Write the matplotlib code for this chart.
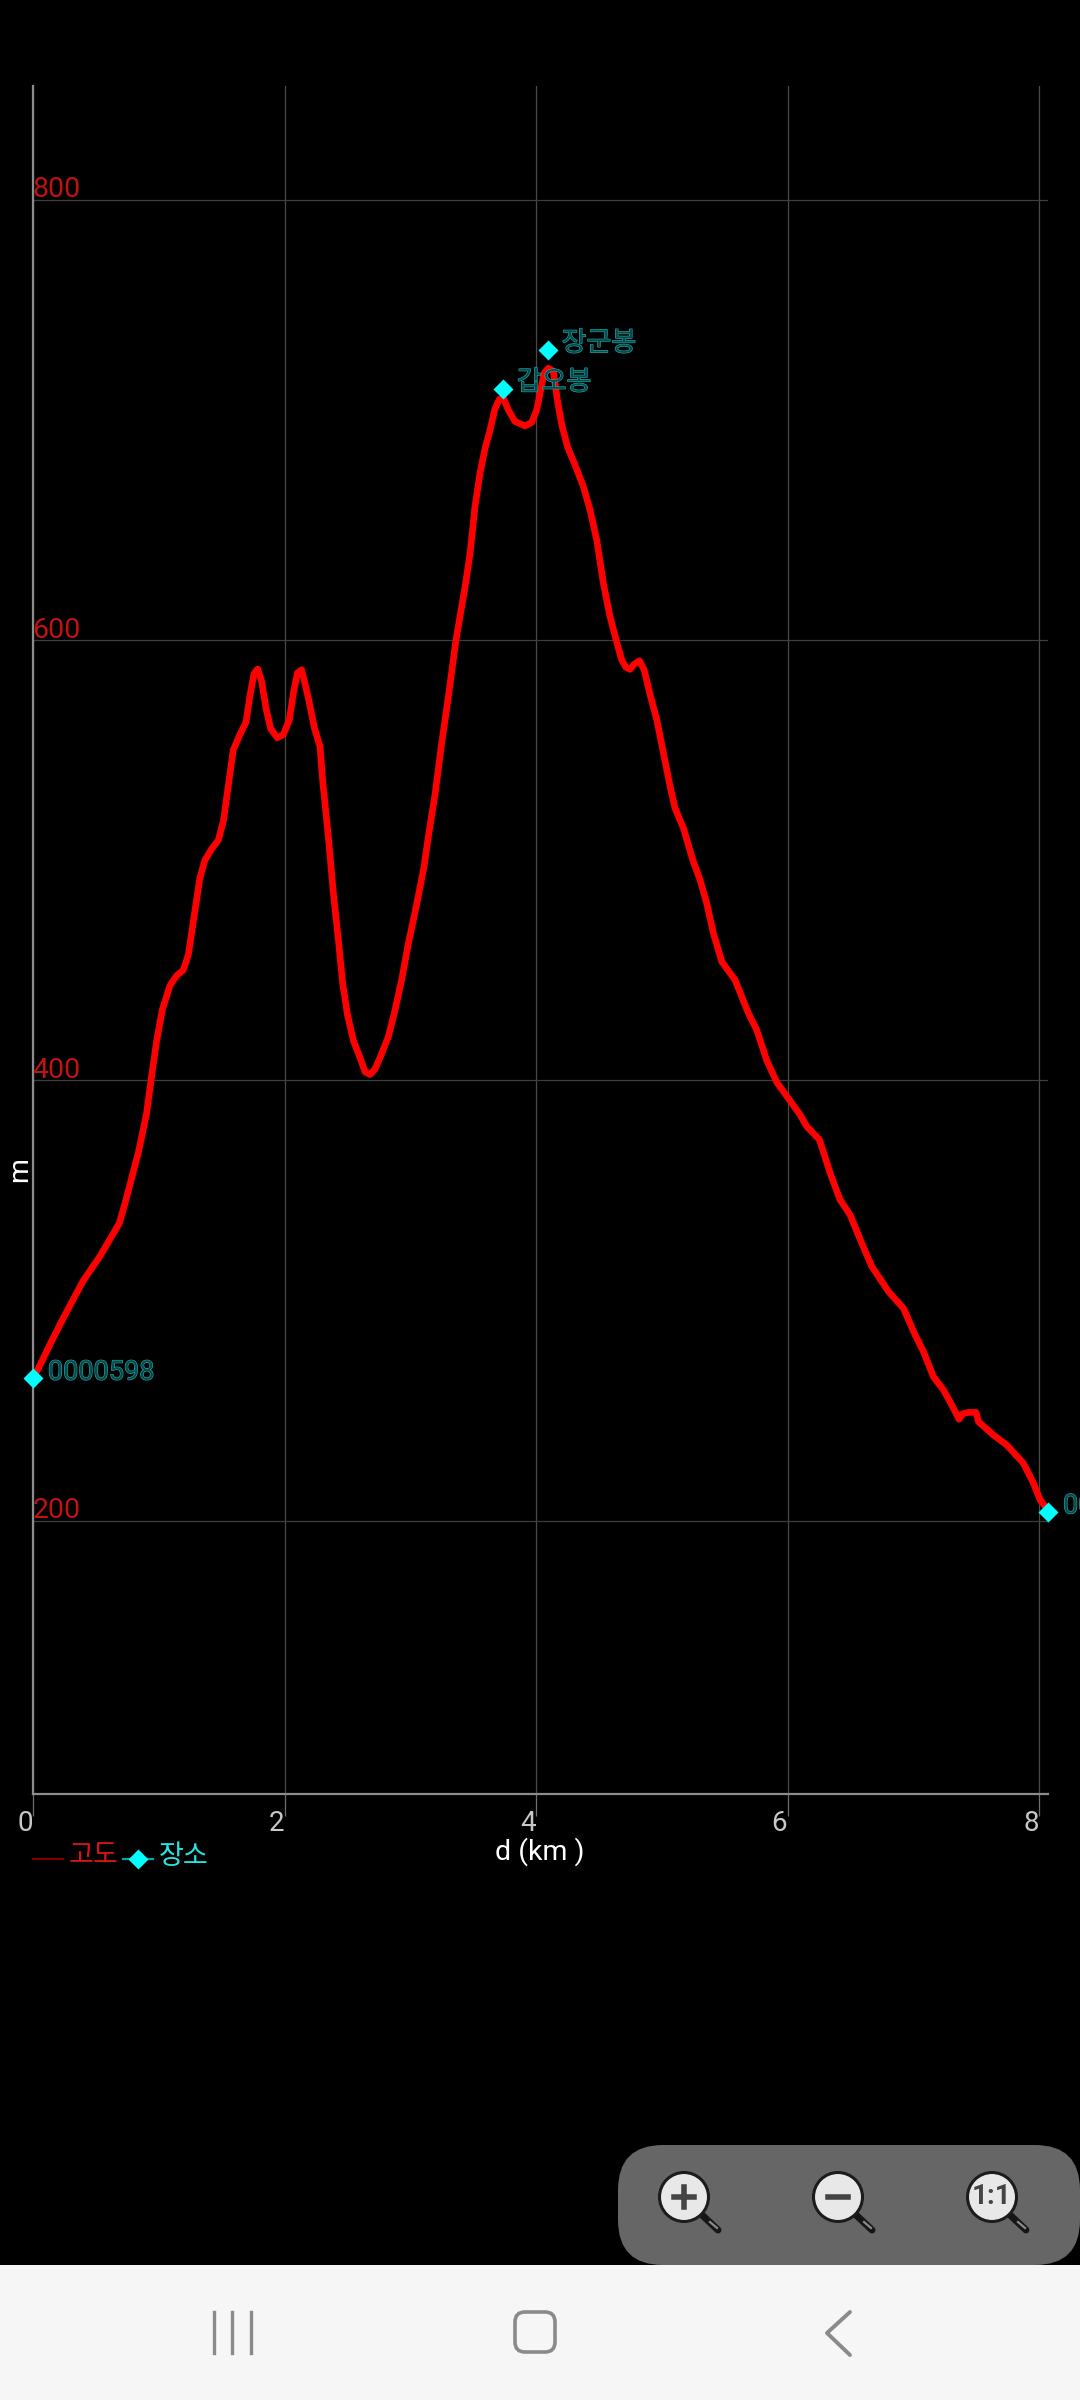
import matplotlib
matplotlib.use('Agg')
import matplotlib.pyplot as plt
import matplotlib.patheffects as pe
from matplotlib.patches import Circle, FancyBboxPatch, Rectangle

plt.rcParams['font.family'] = ['Roboto', 'Noto Sans CJK KR', 'DejaVu Sans']

# elevation profile
dist_km = [0, 0.04, 0.133, 0.239, 0.398, 0.53, 0.684, 0.729, 0.835, 0.901, 0.941, 0.981,
           1.026, 1.087, 1.14, 1.193, 1.233, 1.272, 1.325, 1.365, 1.418, 1.471, 1.511, 1.551,
           1.59, 1.643, 1.691, 1.723, 1.755, 1.784, 1.816, 1.85, 1.887, 1.94, 1.988, 2.036,
           2.068, 2.1, 2.134, 2.187, 2.235, 2.28, 2.301, 2.346, 2.386, 2.426, 2.46, 2.497,
           2.545, 2.593, 2.638, 2.678, 2.717, 2.77, 2.823, 2.876, 2.929, 2.982, 3.049, 3.107,
           3.141, 3.195, 3.247, 3.3, 3.361, 3.433, 3.473, 3.512, 3.552, 3.592, 3.632, 3.671,
           3.706, 3.738, 3.777, 3.83, 3.91, 3.963, 4.003, 4.035, 4.061, 4.095, 4.135, 4.167,
           4.202, 4.247, 4.307, 4.374, 4.427, 4.48, 4.533, 4.586, 4.639, 4.679, 4.713, 4.745,
           4.779, 4.82, 4.857, 4.905, 4.958, 5.011, 5.064, 5.103, 5.17, 5.244, 5.302, 5.355,
           5.408, 5.475, 5.58, 5.687, 5.753, 5.832, 5.912, 5.938, 6.097, 6.15, 6.251, 6.336,
           6.415, 6.495, 6.587, 6.667, 6.8, 6.919, 7.012, 7.078, 7.157, 7.237, 7.303, 7.361,
           7.388, 7.436, 7.497, 7.515, 7.635, 7.74, 7.873, 7.953, 8.006, 8.059]
elev_m = [265, 269, 280, 292, 309, 320, 335, 344, 367, 385, 402, 418,
          432, 443, 447.5, 450, 457, 472, 492, 500, 505, 509, 517.5, 534,
          550, 557, 562.6, 574.7, 584.6, 586.8, 581, 569, 559.7, 555.5, 557, 563.7,
          575.8, 585, 586.4, 573.6, 560, 551.5, 536, 510.6, 485, 463.6, 444, 430,
          418, 411, 403.8, 402.6, 405, 412, 419.7, 431.8, 445.5, 462, 480, 497,
          510.6, 530, 553, 574, 600, 624, 639.3, 660.5, 675.7, 687, 695.4, 705,
          709.3, 709.8, 704.5, 699.2, 697.2, 698.7, 704.5, 713.6, 721, 723.4, 722, 709,
          697.7, 687.8, 679.5, 669.6, 659, 645.4, 625.7, 610.5, 599, 590.8, 587.5, 586.6,
          589, 590.5, 586.4, 575, 563.6, 548.5, 533.3, 523.5, 514.4, 500, 490.9, 480.3,
          466.7, 453.8, 445.5, 430.3, 422.7, 409, 399, 397, 384.3, 379, 373, 357.8,
          345.7, 338.8, 326, 315.4, 304, 296.4, 284.3, 276.7, 265.4, 259.3, 252.5, 246,
          248.4, 249.1, 249.1, 244.9, 238.8, 234.3, 226, 216.9, 209.3, 205.5]

place_km = [0, 3.733, 4.09, 8.066]
place_m = [264.7, 714, 731.7, 204]
place_names = ['0000598', '갑오봉', '장군봉', '00']

x_ticks = [0, 2, 4, 6, 8]
y_ticks = [200, 400, 600, 800]

W, H = 1080, 2400
fig = plt.figure(figsize=(W / 100, H / 100), dpi=100, facecolor='black')

# axes box in pixels: left 33, right 1048, top 85.5, bottom 1793.5
ax = fig.add_axes([33.3 / W, 1 - 1793.5 / H, (1047.7 - 33.3) / W, (1793.5 - 85.5) / H], facecolor='black')
ax.set_xlim(0, 8.066)
ax.set_ylim(76, 851.8)

for s in ['top', 'right']:
    ax.spines[s].set_visible(False)
for s in ['left', 'bottom']:
    ax.spines[s].set_color('#8c8c8c')
    ax.spines[s].set_linewidth(1.6)

ax.set_xticks(x_ticks)
ax.set_yticks(y_ticks)
ax.tick_params(axis='x', length=16, width=0.9, color='#6e6e6e', labelbottom=False)
ax.tick_params(axis='y', length=0, labelleft=False)
ax.grid(axis='x', color='#4a4a4a', lw=0.9)
ax.grid(axis='y', color='#3e3e3e', lw=0.9)
ax.set_axisbelow(True)

for t in x_ticks:
    ax.annotate(str(t), xy=(t, 0), xycoords=('data', 'axes fraction'), xytext=(-6, -21.5),
                textcoords='offset points', ha='center', va='center', fontsize=20, color='#c8c8c8')
for t in y_ticks:
    ax.annotate(str(t), xy=(0, t), xycoords=('axes fraction', 'data'), xytext=(-0.7, 1.5),
                textcoords='offset points', ha='left', va='baseline', fontsize=20.5, color='#c01212')

ax.plot(dist_km, elev_m, color='#ff0000', lw=4.8, solid_joinstyle='round', solid_capstyle='round', zorder=3)
ax.plot(place_km, place_m, ls='none', marker='D', ms=10.6, mfc='#00ffff', mec='none', zorder=4, clip_on=False)

# labels are hollow in the reference: thin teal rim round a dark fill
outline = [pe.Stroke(linewidth=0.8, foreground='#1fb0b0'), pe.Normal()]
label_off = {'0000598': (10.5, 4.2), '갑오봉': (10, -5), '장군봉': (10, -5), '00': (11, 4.2)}
for k, v, name in zip(place_km, place_m, place_names):
    ax.annotate(name, xy=(k, v), xytext=label_off[name], textcoords='offset points', ha='left',
                va='bottom' if name in ['갑오봉', '장군봉'] else 'center', fontsize=19.5,
                color='#0a4c4d', path_effects=outline, zorder=5, annotation_clip=False)

# overlay in pixel coordinates: legend, axis titles and the phone screen chrome
ov = fig.add_axes([0, 0, 1, 1], facecolor='none')
ov.set_xlim(0, W)
ov.set_ylim(H, 0)
ov.axis('off')

ov.text(20, 1170, 'm', color='white', fontsize=20.5, rotation=90, ha='center', va='center')
ov.text(540, 1852, 'd (km )', color='white', fontsize=20.5, ha='center', va='center')

ov.plot([33, 63], [1859, 1859], color='#7d0000', lw=1.6)
ov.text(69, 1856, '고도', color='#d81414', fontsize=19.5, ha='left', va='center')
ov.plot([123, 153], [1859, 1859], color='#00a8a8', lw=1.6)
ov.plot([138], [1859], marker='D', ms=10.6, mfc='#00ffff', mec='none')
ov.text(159, 1856, '장소', color='#22e6e6', fontsize=19.5, ha='left', va='center')

ov.add_patch(FancyBboxPatch((618 + 45, 2145 + 45), 1080 - 618 - 90, 120 - 90, boxstyle='round,pad=45,rounding_size=45',
                            fc='#666666', ec='none', zorder=2))
for cx in [684, 838, 992]:
    ov.plot([cx + 17, cx + 34], [2214, 2230], color='#161616', lw=5.0, solid_capstyle='round', zorder=3)
    ov.plot([cx + 26, cx + 33], [2222, 2228], color='#8a8a8a', lw=1.6, zorder=4)
    ov.add_patch(Circle((cx, 2197), 24.5, fc='#e8e8e8', ec='#1c1c1c', lw=2.2, zorder=4))
ov.plot([674, 694], [2197, 2197], color='#444444', lw=4.0, zorder=5)
ov.plot([684, 684], [2187, 2207], color='#444444', lw=4.0, zorder=5)
ov.plot([828, 848], [2197, 2197], color='#444444', lw=4.0, zorder=5)
ov.text(992, 2197, '1:1', color='#444444', fontsize=20, fontweight='bold', ha='center', va='center', zorder=5)

ov.add_patch(Rectangle((0, 2265), W, 135, fc='#f6f6f6', ec='none', zorder=6))
for nx in [214, 232, 251]:
    ov.plot([nx, nx], [2312, 2353], color='#8a8a8a', lw=2.4, zorder=7)
ov.add_patch(FancyBboxPatch((525, 2322), 20, 20, boxstyle='round,pad=10,rounding_size=10',
                            fc='none', ec='#8a8a8a', lw=2.6, zorder=7))
ov.plot([850, 827, 850], [2312, 2333, 2355], color='#8a8a8a', lw=2.8, solid_capstyle='round', zorder=7)

fig.savefig('out.png', dpi=100, facecolor='black')
